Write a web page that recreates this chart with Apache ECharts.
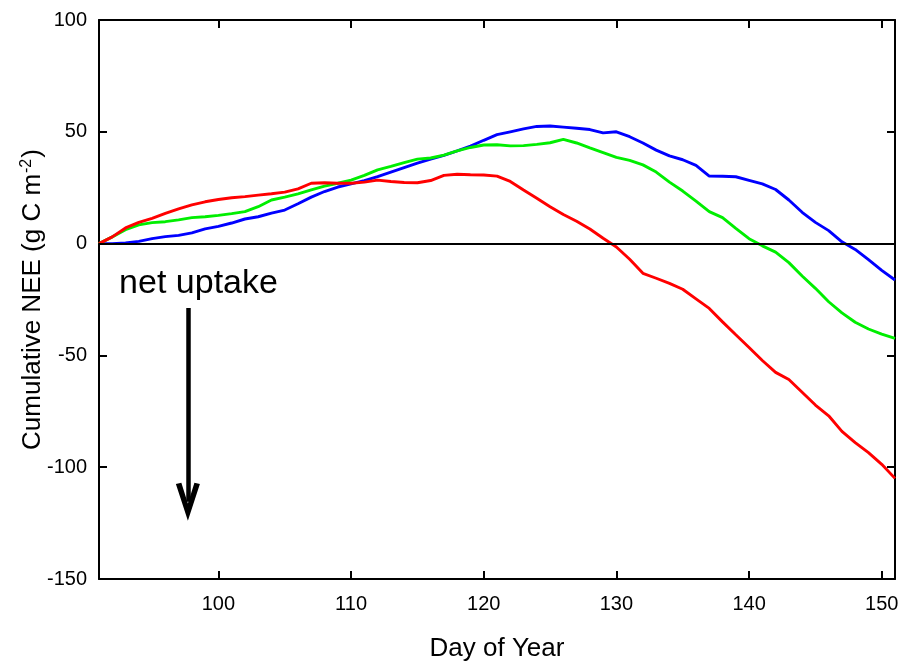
<!DOCTYPE html>
<html>
<head>
<meta charset="utf-8">
<script src="https://cdn.jsdelivr.net/npm/echarts@6/dist/echarts.min.js"></script>
<style>
  html, body { margin: 0; padding: 0; background: #fff; }
  #chart { width: 903px; height: 664px; }
</style>
</head>
<body>
<div id="chart"></div>
<script>
// Day of year (x) and cumulative NEE in g C m-2 for three sites/years
const days = [];
for (let d = 91; d <= 151; d++) days.push(d);

const redNEE = [
  0, 3, 7, 9.5, 11.3, 13.5, 15.5, 17.3, 18.7, 19.7,
  20.5, 21, 21.7, 22.3, 23, 24.5, 27, 27.2, 27, 27,
  27.5, 28.4, 27.8, 27.3, 27.2, 28.2, 30.5, 31, 30.8, 30.7,
  30.2, 27.8, 24, 20.3, 16.5, 13, 10, 6.5, 2.4, -1.5,
  -7, -13.3, -15.5, -17.8, -20.4, -24.7, -29, -35, -40.8, -46.5,
  -52.3, -57.6, -60.8, -66.5, -72.2, -77, -84, -89, -93.5, -98.7,
  -105
];
const greenNEE = [
  0, 3, 6.2, 8.4, 9.4, 9.8, 10.6, 11.6, 12, 12.6,
  13.4, 14.3, 16.5, 19.5, 20.8, 22.2, 24, 25.7, 27, 28.4,
  30.5, 33, 34.5, 36.2, 37.8, 38.3, 39.6, 41.5, 43, 44.1,
  44.2, 43.7, 43.8, 44.4, 45.1, 46.6, 45, 42.8, 40.7, 38.6,
  37.2, 35.2, 32, 27.5, 23.5, 19, 14.3, 11.6, 6.8, 2.2,
  -1, -3.8, -8.5, -14.5, -20, -26, -31, -35.2, -38.2, -40.5,
  -42.4
];
const blueNEE = [
  0, 0, 0.3, 1, 2.2, 3.1, 3.7, 4.8, 6.6, 7.7,
  9.2, 11, 12, 13.6, 15, 17.8, 20.8, 23.3, 25.3, 26.7,
  28.2, 30, 32, 34, 36, 37.8, 39.5, 41.5, 43.6, 46.2,
  48.7, 50, 51.3, 52.4, 52.6, 52.1, 51.6, 51, 49.5, 50,
  47.8, 45, 41.8, 39.2, 37.5, 35, 30.2, 30.1, 29.9, 28.3,
  26.7, 24.2, 19.5, 14, 9.5, 5.8, 0.8, -2.6, -7.2, -12,
  -16.3
];

const xTicks = [100, 110, 120, 130, 140, 150];

// "net uptake" arrow: from just below the label down to the arrow tip
const arrowDay = 97.7;
const arrowFrom = -28.8;
const arrowTo = -115.5;
const labelDay = 98.5;
const labelNEE = -18;

const pairs = vals => days.map((d, i) => [d, vals[i]]);

const FONT = 'Liberation Sans, Arial, sans-serif';
const axisLineStyle = { color: '#000', width: 2 };
const tickStyle = { show: true, inside: true, length: 8, lineStyle: { color: '#000', width: 2 } };
const labelFont = { fontFamily: FONT, fontSize: 20, color: '#000' };

const chart = echarts.init(document.getElementById('chart'), null, { renderer: 'canvas' });

const lineSeries = (name, color, vals) => ({
  name, type: 'line', data: pairs(vals), showSymbol: false, symbol: 'none',
  smooth: false, lineStyle: { color, width: 2.9 }, itemStyle: { color },
  z: 3, animation: false
});

chart.setOption({
  animation: false,
  backgroundColor: '#fff',
  grid: { left: 99, right: 8, top: 20, bottom: 85, containLabel: false, outerBoundsMode: 'none' },
  xAxis: [
    {
      type: 'value', min: 91, max: 151, position: 'bottom',
      axisLine: { show: true, onZero: false, lineStyle: axisLineStyle },
      axisTick: Object.assign({ customValues: xTicks }, tickStyle),
      axisLabel: Object.assign({ customValues: xTicks, margin: 15 }, labelFont),
      splitLine: { show: false },
      name: 'Day of Year', nameLocation: 'middle', nameGap: 57, nameMoveOverlap: false,
      nameTextStyle: { fontFamily: FONT, fontSize: 26, color: '#000' }
    },
    {
      type: 'value', min: 91, max: 151, position: 'top',
      axisLine: { show: true, onZero: false, lineStyle: axisLineStyle },
      axisTick: Object.assign({ customValues: xTicks }, tickStyle),
      axisLabel: { show: false }, splitLine: { show: false }
    }
  ],
  yAxis: [
    {
      type: 'value', min: -150, max: 100, interval: 50, position: 'left',
      axisLine: { show: true, onZero: false, lineStyle: axisLineStyle },
      axisTick: tickStyle,
      axisLabel: Object.assign({ margin: 12 }, labelFont),
      splitLine: { show: false },
      name: '{a|Cumulative NEE (g C m}{s|-2}{a|)}',
      nameLocation: 'middle', nameGap: 52, nameRotate: 90, nameMoveOverlap: false,
      nameTextStyle: {
        rich: {
          a: { fontFamily: FONT, fontSize: 26, color: '#000' },
          s: { fontFamily: FONT, fontSize: 16, color: '#000', padding: [0, 1, 12, 1] }
        }
      }
    },
    {
      type: 'value', min: -150, max: 100, interval: 50, position: 'right',
      axisLine: { show: true, onZero: false, lineStyle: axisLineStyle },
      axisTick: tickStyle,
      axisLabel: { show: false }, splitLine: { show: false }
    }
  ],
  series: [
    lineSeries('blue', '#0000ff', blueNEE),
    lineSeries('green', '#00ee00', greenNEE),
    Object.assign(lineSeries('red', '#ff0000', redNEE), {
      markLine: {
        silent: true, symbol: 'none', animation: false,
        label: { show: false },
        lineStyle: { color: '#000', width: 2, type: 'solid' },
        data: [{ yAxis: 0 }]
      }
    }),
    {
      name: 'uptake', type: 'line', data: [], animation: false,
      markLine: {
        silent: true, animation: false,
        symbol: ['none', 'path://M11,0 L22,34 L17,35 L11,16 L5,35 L0,34 Z'],
        symbolSize: [24, 38],
        label: { show: false },
        lineStyle: { color: '#000', width: 4.5, type: 'solid' },
        data: [[{ coord: [arrowDay, arrowFrom] }, { coord: [arrowDay, arrowTo] }]]
      }
    },
    {
      name: 'uptake label', type: 'scatter', animation: false, silent: true,
      data: [[labelDay, labelNEE]],
      symbolSize: 0,
      itemStyle: { color: 'rgba(0,0,0,0)', opacity: 1 },
      label: {
        show: true, position: 'inside', formatter: 'net uptake',
        fontFamily: FONT, fontSize: 34, color: '#000', opacity: 1
      }
    }
  ]
});
</script>
</body>
</html>
